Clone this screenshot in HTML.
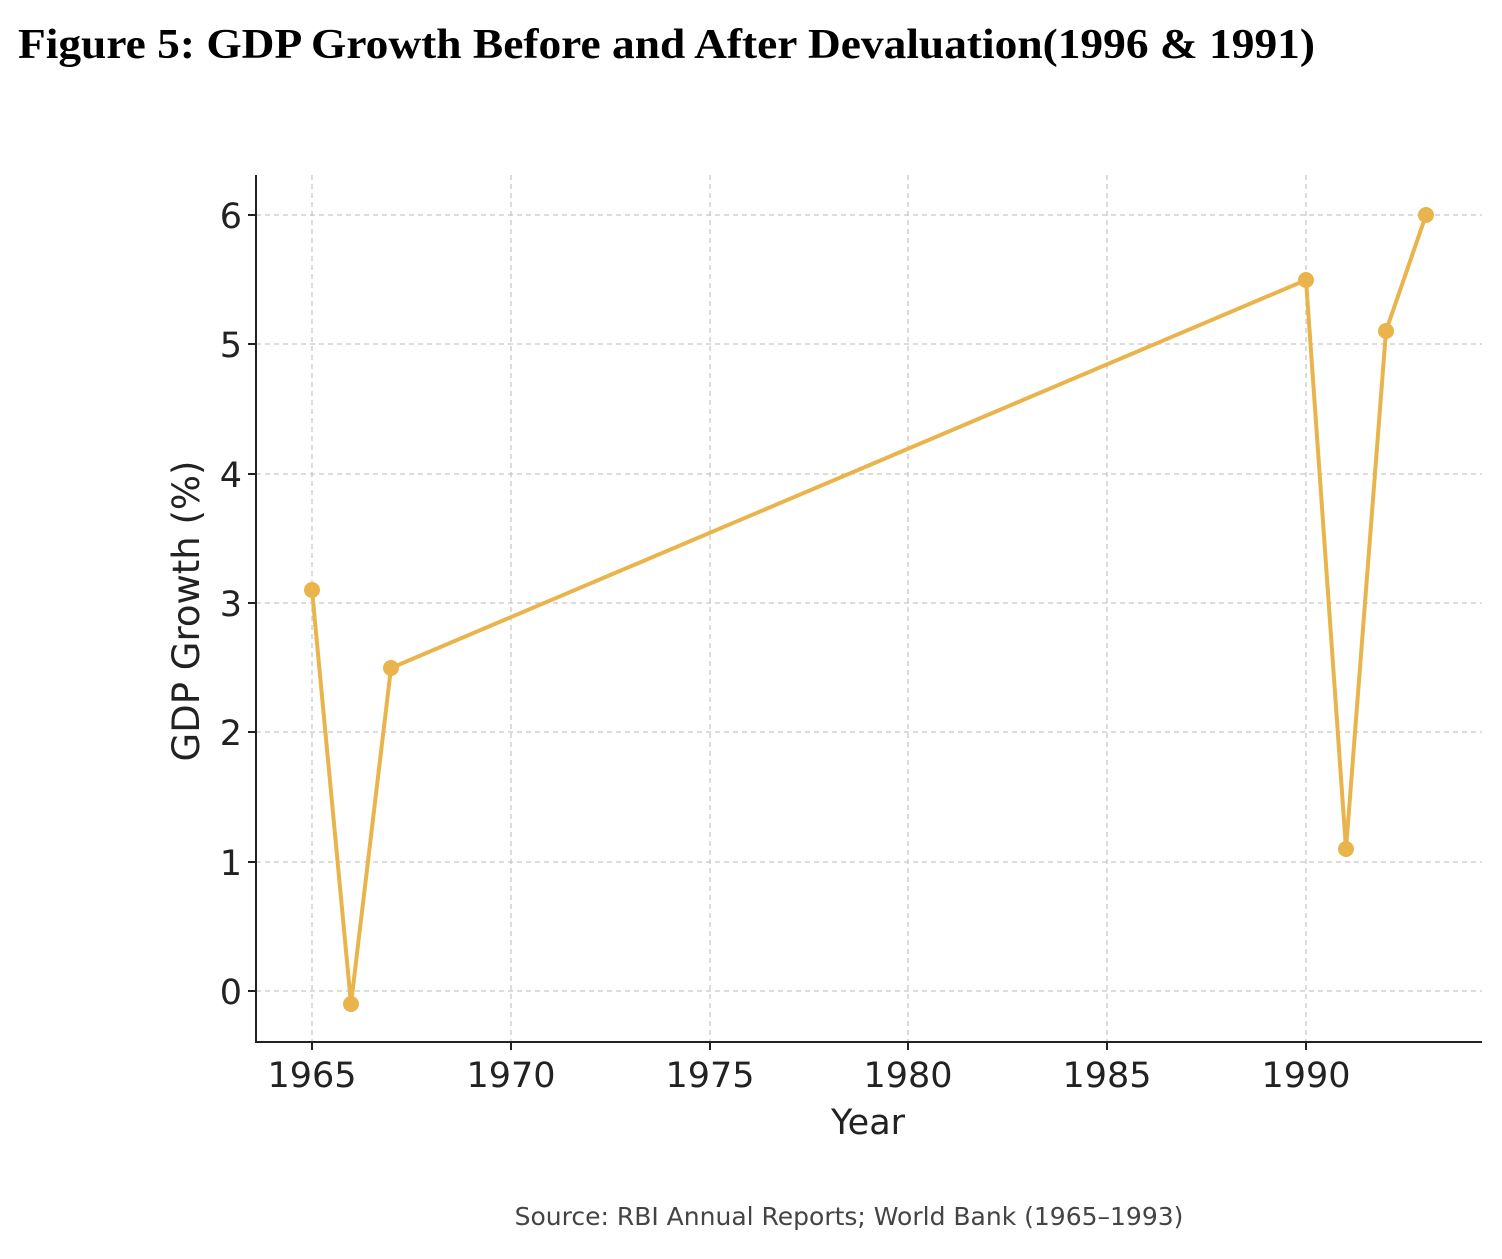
<!DOCTYPE html>
<html><head><meta charset="utf-8"><style>
body{margin:0;background:#fff;}
</style></head><body>
<svg width="1502" height="1254" xmlns="http://www.w3.org/2000/svg">
<text x="18" y="58" font-family="Liberation Serif, serif" font-weight="bold" font-size="42" fill="#000" textLength="1297" lengthAdjust="spacingAndGlyphs">Figure 5: GDP Growth Before and After Devaluation(1996 &amp; 1991)</text>
<g stroke="#c8c8c8" stroke-width="1.3" stroke-dasharray="5,4">
<line x1="312" y1="175" x2="312" y2="1042"/><line x1="511" y1="175" x2="511" y2="1042"/><line x1="710" y1="175" x2="710" y2="1042"/><line x1="908" y1="175" x2="908" y2="1042"/><line x1="1107" y1="175" x2="1107" y2="1042"/><line x1="1306" y1="175" x2="1306" y2="1042"/>
<line x1="256" y1="215" x2="1482" y2="215"/><line x1="256" y1="344" x2="1482" y2="344"/><line x1="256" y1="474" x2="1482" y2="474"/><line x1="256" y1="603" x2="1482" y2="603"/><line x1="256" y1="732" x2="1482" y2="732"/><line x1="256" y1="862" x2="1482" y2="862"/><line x1="256" y1="991" x2="1482" y2="991"/>
</g>
<g stroke="#222" stroke-width="2" fill="none"><polyline points="256,175 256,1042 1482,1042"/>
<line x1="312" y1="1042" x2="312" y2="1050"/><line x1="511" y1="1042" x2="511" y2="1050"/><line x1="710" y1="1042" x2="710" y2="1050"/><line x1="908" y1="1042" x2="908" y2="1050"/><line x1="1107" y1="1042" x2="1107" y2="1050"/><line x1="1306" y1="1042" x2="1306" y2="1050"/>
<line x1="248" y1="215" x2="256" y2="215"/><line x1="248" y1="344" x2="256" y2="344"/><line x1="248" y1="474" x2="256" y2="474"/><line x1="248" y1="603" x2="256" y2="603"/><line x1="248" y1="732" x2="256" y2="732"/><line x1="248" y1="862" x2="256" y2="862"/><line x1="248" y1="991" x2="256" y2="991"/>
</g>
<g font-family="DejaVu Sans, sans-serif" font-size="35" fill="#222" text-anchor="middle">
<text x="312" y="1087">1965</text><text x="511" y="1087">1970</text><text x="710" y="1087">1975</text><text x="908" y="1087">1980</text><text x="1107" y="1087">1985</text><text x="1306" y="1087">1990</text>
<text x="868" y="1134">Year</text>
</g>
<g font-family="DejaVu Sans, sans-serif" font-size="35" fill="#222" text-anchor="end">
<text x="242" y="228">6</text><text x="242" y="357">5</text><text x="242" y="487">4</text><text x="242" y="616">3</text><text x="242" y="745">2</text><text x="242" y="875">1</text><text x="242" y="1004">0</text>
</g>
<text transform="translate(199,611) rotate(-90)" font-family="DejaVu Sans, sans-serif" font-size="37" fill="#222" text-anchor="middle">GDP Growth (%)</text>
<polyline points="312,590 351,1004 391,668 1306,280 1346,849 1386,331 1426,215" fill="none" stroke="#e9b44c" stroke-width="4" stroke-linejoin="round"/>
<g fill="#e9b44c"><circle cx="312" cy="590" r="8"/><circle cx="351" cy="1004" r="8"/><circle cx="391" cy="668" r="8"/><circle cx="1306" cy="280" r="8"/><circle cx="1346" cy="849" r="8"/><circle cx="1386" cy="331" r="8"/><circle cx="1426" cy="215" r="8"/></g>
<text x="849" y="1225" font-family="DejaVu Sans, sans-serif" font-size="25" fill="#444" text-anchor="middle">Source: RBI Annual Reports; World Bank (1965–1993)</text>
</svg>
</body></html>
